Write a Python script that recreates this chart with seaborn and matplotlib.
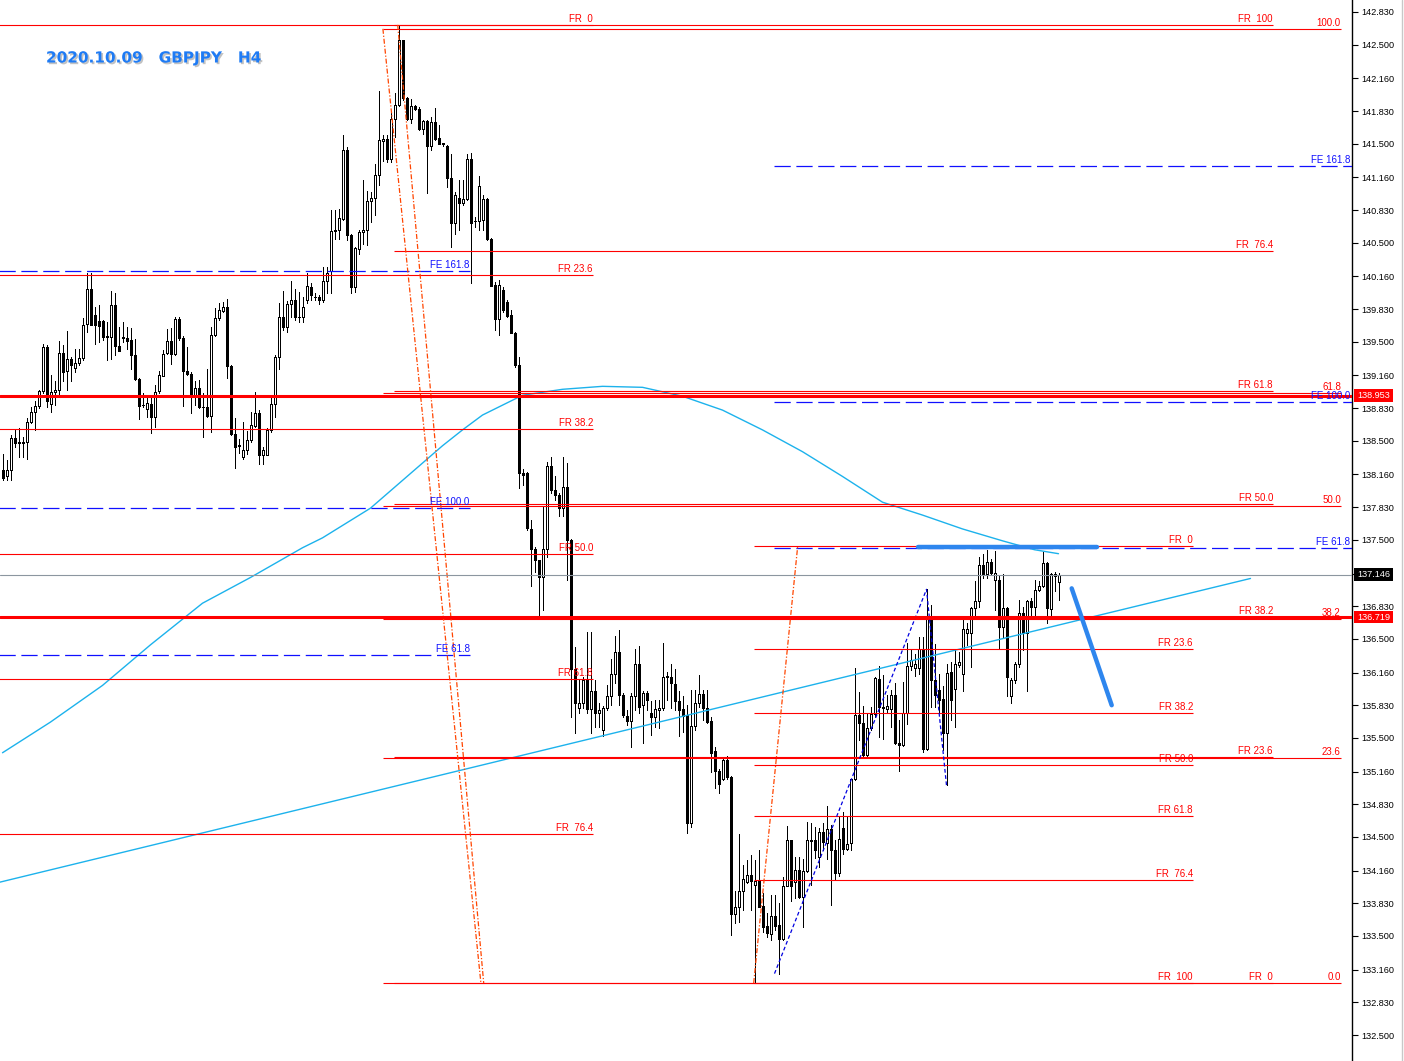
import numpy as np
import matplotlib
matplotlib.use("Agg")
import matplotlib.pyplot as plt
import matplotlib.patheffects as pe
import matplotlib.transforms as mtransforms
from matplotlib.lines import Line2D
from matplotlib.patches import Rectangle
import seaborn as sns

# GBPJPY H4 candles, bar 0 .. 264
opens = [
    138.21, 138.14, 138.21, 138.53, 138.48, 138.48, 138.49, 138.69, 138.79, 138.85,
    139.00, 139.45, 138.87, 138.99, 139.01, 139.39, 139.20, 139.33, 139.24, 139.29,
    139.34, 139.68, 140.03, 139.77, 139.71, 139.71, 139.55, 139.55, 139.87, 139.46,
    139.54, 139.54, 139.52, 139.37, 139.12, 138.86, 138.82, 138.87, 138.74, 139.00,
    139.15, 139.39, 139.51, 139.38, 139.73, 139.54, 139.20, 139.17, 138.95, 139.03,
    138.84, 138.84, 138.75, 139.57, 139.74, 139.81, 139.85, 139.26, 138.57, 138.45,
    138.34, 138.41, 138.51, 138.65, 138.78, 138.36, 138.36, 138.61, 138.87, 139.35,
    139.75, 139.65, 139.88, 139.92, 139.75, 139.75, 139.92, 140.05, 139.95, 139.95,
    139.92, 140.11, 140.21, 140.62, 140.63, 140.74, 141.44, 140.58, 140.05, 140.44,
    140.61, 140.63, 140.92, 140.95, 141.18, 141.53, 141.55, 141.35, 141.75, 141.89,
    142.55, 141.96, 141.75, 141.88, 141.85, 141.65, 141.73, 141.48, 141.72, 141.56,
    141.50, 141.48, 141.15, 140.70, 140.95, 140.90, 140.94, 141.35, 140.72, 140.72,
    140.73, 140.94, 140.54, 140.07, 139.73, 140.02, 139.90, 139.77, 139.59, 139.27,
    138.17, 138.17, 137.61, 137.41, 137.30, 137.12, 137.41, 138.25, 138.00, 137.95,
    137.82, 138.03, 137.50, 136.20, 135.80, 135.85, 136.08, 135.79, 135.97, 135.75,
    135.58, 135.80, 135.92, 136.15, 136.37, 135.93, 135.72, 135.67, 135.92, 136.25,
    135.83, 135.95, 135.75, 135.71, 135.78, 135.80, 136.13, 136.12, 136.04, 135.87,
    135.79, 135.73, 134.64, 135.62, 135.85, 135.94, 135.80, 135.67, 135.37, 135.17,
    135.09, 135.28, 135.11, 133.72, 133.79, 133.95, 134.05, 134.12, 134.01, 134.06,
    133.80, 133.60, 133.52, 133.70, 133.61, 133.47, 134.00, 134.47, 134.05, 134.17,
    133.89, 134.16, 134.46, 134.47, 134.30, 134.55, 134.44, 134.58, 134.37, 134.14,
    134.59, 134.38, 134.44, 135.08, 135.73, 135.65, 135.33, 135.60, 135.74, 136.09,
    135.80, 135.79, 135.79, 135.93, 135.45, 135.43, 135.75, 136.23, 136.21, 136.21,
    136.40, 135.39, 136.72, 136.08, 135.98, 135.89, 135.55, 136.17, 135.99, 136.24,
    136.15, 136.56, 136.56, 136.81, 136.88, 137.25, 137.16, 137.28, 137.09, 137.09,
    136.62, 136.81, 135.92, 136.08, 136.25, 136.76, 136.56, 136.88, 136.82, 136.99,
    137.03, 137.27, 136.80, 137.15, 137.07,
]
highs = [
    138.37, 138.31, 138.56, 138.61, 138.63, 138.54, 138.73, 138.84, 138.90, 139.01,
    139.48, 139.47, 139.16, 139.10, 139.51, 139.47, 139.61, 139.35, 139.43, 139.43,
    139.74, 140.19, 140.19, 139.85, 139.87, 139.72, 139.70, 140.01, 139.99, 139.65,
    139.70, 139.65, 139.64, 139.53, 139.13, 138.98, 138.96, 138.93, 139.06, 139.20,
    139.42, 139.63, 139.64, 139.75, 139.75, 139.56, 139.45, 139.19, 139.10, 139.11,
    138.98, 139.22, 139.65, 139.84, 139.89, 139.90, 139.93, 139.27, 138.73, 138.52,
    138.69, 138.60, 138.79, 138.99, 138.81, 138.44, 138.63, 138.96, 139.37, 139.89,
    140.01, 139.91, 140.11, 140.03, 140.00, 139.95, 140.19, 140.09, 139.99, 139.97,
    140.26, 140.26, 140.83, 140.83, 140.84, 141.59, 141.47, 140.59, 140.46, 140.63,
    141.13, 141.02, 141.01, 141.29, 142.03, 141.59, 141.59, 141.81, 142.01, 142.70,
    142.55, 141.97, 141.95, 141.89, 141.87, 141.74, 141.74, 141.77, 141.86, 141.69,
    141.51, 141.49, 141.40, 141.01, 141.13, 141.13, 141.40, 141.41, 140.76, 141.17,
    140.98, 140.95, 140.55, 140.10, 140.12, 140.05, 139.92, 139.82, 139.60, 139.35,
    138.22, 138.19, 137.70, 137.43, 137.30, 137.83, 138.29, 138.34, 138.14, 137.97,
    138.34, 138.28, 137.51, 136.42, 136.08, 136.12, 136.57, 136.57, 136.08, 135.85,
    135.82, 136.03, 136.30, 136.53, 136.59, 135.95, 135.78, 135.95, 136.40, 136.43,
    135.97, 135.97, 135.87, 135.88, 135.88, 136.46, 136.17, 136.25, 136.20, 135.97,
    135.92, 135.83, 135.98, 135.98, 136.14, 135.98, 135.98, 135.71, 135.41, 135.19,
    135.31, 135.32, 135.12, 133.95, 134.53, 134.22, 134.27, 134.32, 134.27, 134.37,
    133.93, 133.73, 133.91, 133.91, 133.83, 134.10, 134.61, 134.47, 134.30, 134.30,
    134.28, 134.65, 134.64, 134.60, 134.59, 134.64, 134.81, 134.62, 134.47, 134.70,
    134.75, 134.70, 135.09, 136.21, 135.96, 135.82, 135.74, 135.81, 136.12, 136.23,
    136.14, 135.93, 135.98, 136.05, 135.68, 136.06, 136.46, 136.39, 136.35, 136.52,
    136.52, 137.00, 136.84, 136.45, 136.15, 136.02, 136.25, 136.27, 136.39, 136.37,
    136.72, 136.66, 136.82, 137.08, 137.33, 137.36, 137.40, 137.31, 137.39, 137.13,
    137.16, 136.82, 136.10, 136.27, 136.89, 136.82, 136.89, 136.91, 137.09, 137.08,
    137.38, 137.28, 137.17, 137.18, 137.17,
]
lows = [
    138.10, 138.10, 138.10, 138.44, 138.34, 138.34, 138.32, 138.68, 138.61, 138.83,
    138.98, 138.84, 138.79, 138.86, 138.95, 139.10, 139.01, 139.10, 139.19, 139.27,
    139.32, 139.60, 139.67, 139.48, 139.50, 139.52, 139.32, 139.33, 139.37, 139.41,
    139.50, 139.43, 139.23, 139.11, 138.72, 138.84, 138.74, 138.58, 138.64, 138.98,
    139.15, 139.38, 139.28, 139.37, 139.52, 138.85, 139.16, 138.78, 138.86, 138.83,
    138.54, 138.74, 138.59, 139.56, 139.72, 139.80, 139.13, 138.56, 138.23, 138.38,
    138.32, 138.37, 138.49, 138.64, 138.27, 138.27, 138.36, 138.59, 138.74, 139.23,
    139.62, 139.60, 139.75, 139.72, 139.70, 139.70, 139.89, 139.92, 139.92, 139.88,
    139.90, 139.99, 139.99, 140.54, 140.54, 140.73, 140.53, 139.99, 140.00, 140.39,
    140.49, 140.48, 140.71, 140.78, 141.08, 141.33, 141.32, 141.32, 141.57, 141.88,
    141.94, 141.74, 141.71, 141.84, 141.64, 141.60, 141.00, 141.44, 141.54, 141.50,
    141.48, 141.06, 140.46, 140.59, 140.63, 140.88, 140.93, 140.09, 140.66, 140.63,
    140.63, 140.53, 140.06, 139.62, 139.57, 139.80, 139.75, 139.59, 139.25, 138.02,
    138.05, 137.60, 137.03, 137.18, 136.71, 136.79, 137.33, 137.97, 137.90, 137.74,
    137.74, 137.09, 135.71, 135.55, 135.75, 135.80, 135.75, 135.55, 135.61, 135.61,
    135.52, 135.78, 135.83, 136.05, 135.83, 135.71, 135.63, 135.41, 135.78, 135.75,
    135.45, 135.78, 135.53, 135.61, 135.60, 135.78, 135.88, 135.80, 135.78, 135.52,
    135.56, 134.54, 134.60, 135.58, 135.81, 135.68, 135.65, 135.16, 134.99, 134.94,
    135.07, 135.09, 133.51, 133.63, 133.64, 133.76, 134.03, 133.76, 133.03, 133.79,
    133.54, 133.49, 133.46, 133.56, 133.12, 133.46, 134.00, 133.85, 133.88, 133.88,
    133.59, 134.15, 134.01, 134.29, 134.20, 134.37, 134.28, 133.81, 134.08, 134.11,
    134.33, 134.37, 134.37, 135.07, 135.48, 135.31, 135.31, 135.58, 135.71, 135.51,
    135.49, 135.75, 135.61, 135.44, 135.17, 135.42, 135.64, 136.19, 136.13, 136.15,
    135.36, 135.38, 135.81, 135.81, 135.76, 135.38, 135.02, 135.68, 135.61, 136.22,
    135.97, 136.44, 136.22, 136.71, 136.82, 137.11, 137.11, 137.16, 136.79, 136.40,
    136.52, 135.92, 135.85, 136.05, 136.22, 136.39, 135.97, 136.74, 136.72, 136.98,
    137.02, 136.66, 136.72, 136.98, 136.89,
]
closes = [
    138.12, 138.21, 138.53, 138.48, 138.48, 138.48, 138.69, 138.79, 138.85, 139.00,
    139.45, 138.90, 138.99, 139.01, 139.39, 139.19, 139.33, 139.27, 139.29, 139.34,
    139.67, 140.03, 139.67, 139.67, 139.66, 139.55, 139.55, 139.87, 139.46, 139.41,
    139.54, 139.51, 139.37, 139.12, 138.85, 138.86, 138.88, 138.74, 138.99, 139.16,
    139.38, 139.51, 139.38, 139.73, 139.54, 139.20, 139.17, 138.95, 139.03, 138.84,
    138.84, 138.75, 139.57, 139.74, 139.82, 139.85, 139.26, 138.57, 138.44, 138.45,
    138.41, 138.51, 138.66, 138.78, 138.36, 138.41, 138.61, 138.87, 139.35, 139.75,
    139.65, 139.88, 139.92, 139.75, 139.75, 139.85, 140.06, 139.97, 139.95, 139.92,
    140.11, 140.19, 140.62, 140.63, 140.75, 141.44, 140.58, 140.05, 140.45, 140.61,
    140.63, 140.92, 140.95, 141.18, 141.54, 141.55, 141.35, 141.75, 141.89, 142.55,
    141.96, 141.75, 141.88, 141.85, 141.65, 141.73, 141.48, 141.72, 141.55, 141.50,
    141.50, 141.15, 140.70, 140.98, 140.90, 140.94, 141.35, 140.70, 140.72, 141.07,
    140.94, 140.54, 140.06, 139.73, 140.07, 139.82, 139.76, 139.59, 139.27, 138.17,
    138.15, 137.62, 137.41, 137.30, 137.12, 137.41, 138.25, 138.00, 137.95, 137.82,
    138.03, 137.50, 136.20, 135.85, 135.85, 136.08, 135.79, 135.97, 135.75, 135.78,
    135.80, 135.92, 136.15, 136.37, 135.93, 135.73, 135.67, 135.92, 136.25, 135.81,
    135.95, 135.88, 135.71, 135.79, 135.80, 136.12, 136.11, 136.05, 135.87, 135.78,
    135.72, 134.64, 135.62, 135.85, 135.94, 135.80, 135.66, 135.35, 135.17, 135.03,
    135.28, 135.11, 133.72, 133.79, 133.95, 134.08, 134.12, 134.06, 134.06, 133.79,
    133.59, 133.53, 133.70, 133.60, 133.47, 134.00, 134.47, 134.00, 134.17, 133.89,
    134.16, 134.47, 134.47, 134.37, 134.55, 134.45, 134.58, 134.37, 134.14, 134.48,
    134.38, 134.43, 135.08, 135.73, 135.65, 135.33, 135.60, 135.74, 136.10, 135.81,
    135.81, 135.82, 135.93, 135.45, 135.43, 135.75, 136.23, 136.29, 136.25, 136.40,
    135.39, 136.72, 136.08, 135.93, 135.88, 135.55, 136.16, 135.88, 136.25, 136.27,
    136.60, 136.60, 136.81, 136.88, 137.25, 137.16, 137.28, 137.17, 137.17, 136.62,
    136.81, 136.11, 136.08, 136.25, 136.76, 136.56, 136.88, 136.82, 136.99, 137.03,
    137.27, 136.81, 137.15, 137.13, 137.14,
]

# moving average (light blue curve), read at some bars
ma_bars = [0, 12, 25, 37, 50, 62, 75, 80, 92, 100, 110, 115, 120, 130, 140, 150,
           160, 170, 180, 190, 200, 210, 220, 230, 240, 250, 258, 264]
ma_vals = [135.35, 135.66, 136.03, 136.44, 136.86, 137.12, 137.42, 137.52, 137.82,
           138.10, 138.45, 138.61, 138.76, 138.96, 139.02, 139.05, 139.04, 138.95,
           138.81, 138.61, 138.39, 138.14, 137.88, 137.75, 137.61, 137.49, 137.40, 137.36]

# trend line
trend_bars = [-1, 312]
trend_vals = [134.04, 137.11]

# fibonacci retracements: (level-0 price, level-100 price, start bar, end bar, levels, labels)
fib_a = (142.70, 132.01, -1, 147.6, [0, 23.6, 38.2, 50.0, 61.8, 76.4],
         ["FR  0", "FR 23.6", "FR 38.2", "FR 50.0", "FR 61.8", "FR  76.4"])
fib_b = (133.025, 142.70, 97.8, 317.6, [0, 23.6, 38.2, 50.0, 61.8, 76.4, 100],
         ["FR  0", "FR 23.6", "FR 38.2", "FR 50.0", "FR 61.8", "FR  76.4", "FR  100"])
fib_c = (133.025, 142.66, 95.1, 334.6, [0, 23.6, 38.2, 50.0, 61.8, 100],
         ["0.0", "23.6", "38.2", "50.0", "61.8", "100.0"])
fib_d = (137.437, 133.025, 187.8, 297.6, [0, 23.6, 38.2, 50.0, 61.8, 76.4, 100],
         ["FR  0", "FR 23.6", "FR 38.2", "FR 50.0", "FR 61.8", "FR  76.4", "FR  100"])

# fibonacci expansions
fe_labels = ["FE 161.8", "FE 100.0", "FE 61.8"]
fe_left_vals = [140.214, 137.821, 136.337]
fe_left_span = (-1, 116.8)
fe_right_vals = [141.275, 138.892, 137.417]
fe_right_span = (192.8, 338)

# fib tool diagonals (orange dashed) and expansion zigzag (blue dashed)
fib_diag = [([95.1, 119.6], [142.66, 133.025]),
            ([98.8, 120.3], [142.70, 133.025]),
            ([187.8, 198.8], [133.025, 137.437])]
zig_bars = [193, 231, 236]
zig_vals = [133.12, 137.00, 135.02]

# hand drawn blue lines
flat_bars = [228.8, 273.6]
flat_vals = [137.43, 137.43]
down_bars = [267.3, 277.3]
down_vals = [137.01, 135.83]

# horizontal levels and price tags
level_vals = [138.953, 136.719]
bid = 137.146
tags = [("138.953", 138.953, "#FF0000"), ("137.146", 137.146, "black"),
        ("136.719", 136.719, "#FF0000")]

tick_labels = ["142.830", "142.500", "142.160", "141.830", "141.500", "141.160",
               "140.830", "140.500", "140.160", "139.830", "139.500", "139.160",
               "138.830", "138.500", "138.160", "137.830", "137.500", "137.160",
               "136.830", "136.500", "136.160", "135.830", "135.500", "135.160",
               "134.830", "134.500", "134.160", "133.830", "133.500", "133.160",
               "132.830", "132.500"]
hidden_tick = "137.160"  # sits under the bid tag

title = "2020.10.09   GBPJPY   H4"

sns.set_style("white")
plt.rcParams["font.family"] = ["Liberation Sans", "DejaVu Sans"]

W, H = 1404, 1061
fig = plt.figure(figsize=(W / 100, H / 100), dpi=100)
ax = fig.add_axes([0, 0, 1352 / W, 1])
ax.set_xlim(-0.625, 337.375)
ax.set_ylim(132.2375, 142.951)

# candles (1 px outline, 1 px hollow inside, like the terminal draws them)
o = np.array(opens)
h = np.array(highs)
l = np.array(lows)
c = np.array(closes)
idx = np.arange(len(c))
up = c >= o
ax.vlines(idx, l, h, color="black", lw=0.72, zorder=3, antialiased=False)
lo = np.minimum(o, c)
ht = np.maximum(np.abs(c - o), 0.004)
ax.bar(idx[up], ht[up], bottom=lo[up], width=0.5, facecolor="white",
       edgecolor="black", linewidth=0.72, zorder=4, antialiased=False)
ax.bar(idx[~up], ht[~up], bottom=lo[~up], width=0.5, facecolor="black",
       edgecolor="black", linewidth=0.72, zorder=4, antialiased=False)

# moving average and trend line
sns.lineplot(x=ma_bars, y=ma_vals, ax=ax, color="#1CB2EC", lw=1, sort=False,
             estimator=None, zorder=5)
sns.lineplot(x=trend_bars, y=trend_vals, ax=ax, color="#1CB2EC", lw=1, sort=False,
             estimator=None, zorder=5)

# fibonacci retracements
red = "#FF0000"
for zero, hundred, x0, x1, levels, labels in [fib_a, fib_b, fib_c, fib_d]:
    for lev, lab in zip(levels, labels):
        p = zero + lev / 100 * (hundred - zero)
        ax.hlines(p, x0, x1, color=red, lw=0.8, zorder=6)
        ax.annotate(lab, (x1, p), xytext=(0, 0.6), textcoords="offset points",
                    ha="right", va="bottom", fontsize=7, color=red, zorder=7)

# fibonacci expansions
blue = "#1010FF"
for vals, (x0, x1) in [(fe_left_vals, fe_left_span), (fe_right_vals, fe_right_span)]:
    for p, lab in zip(vals, fe_labels):
        ax.hlines(p, x0, x1, color=blue, lw=0.9, linestyles=(0, (13, 4.5)), zorder=6)
        ax.annotate(lab, (min(x1, 337.0), p), xytext=(0, 0.6), textcoords="offset points",
                    ha="right", va="bottom", fontsize=7, color=blue, zorder=7)

for xs, ys in fib_diag:
    ax.plot(xs, ys, color="#FF4500", lw=0.9, ls=(0, (4, 1.5, 1, 1.5)), zorder=6)
ax.plot(zig_bars, zig_vals, color="#0000E0", lw=0.9, ls=(0, (3, 2)), zorder=6)

# horizontal price levels
for p in level_vals:
    ax.axhline(p, color=red, lw=2.2, zorder=6)
ax.axhline(bid, color="#8C96A0", lw=0.8, zorder=6)

# hand drawn lines
sns.lineplot(x=flat_bars, y=flat_vals, ax=ax, color="#2E86EE", lw=3.2, sort=False,
             estimator=None, zorder=8, solid_capstyle="round")
sns.lineplot(x=down_bars, y=down_vals, ax=ax, color="#2E86EE", lw=3.2, sort=False,
             estimator=None, zorder=8, solid_capstyle="round")

# axes styling
ax.set_xticks([])
ax.set_yticks([float(t) for t in tick_labels])
ax.set_yticklabels([("" if t == hidden_tick else t) for t in tick_labels])
ax.yaxis.tick_right()
ax.tick_params(axis="y", right=True, left=False, labelright=True, labelleft=False,
               length=4, width=0.8, direction="out", pad=3, labelsize=6.6,
               colors="black")
for side in ["left", "top", "bottom"]:
    ax.spines[side].set_visible(False)
ax.spines["right"].set_color("black")
ax.spines["right"].set_linewidth(1.0)
ax.set_xlabel("")
ax.set_ylabel("")

# price tags on the scale
blend = mtransforms.blended_transform_factory(ax.transAxes, ax.transData)
px = 0.0100978  # price per pixel
for txt, p, col in tags:
    ax.add_patch(Rectangle((1354 / 1352, p - 6 * px), 39 / 1352, 12.5 * px,
                           transform=blend, facecolor=col, edgecolor="none",
                           clip_on=False, zorder=10))
    ax.text(1373.5 / 1352, p, txt, transform=blend, ha="center", va="center",
            fontsize=6.6, color="white", zorder=11, clip_on=False)

fig.text(46 / W, 1 - 58 / H, title, ha="left", va="center", fontsize=11,
         fontweight="bold", color="#1E7BF5", family="DejaVu Sans",
         path_effects=[pe.withSimplePatchShadow(offset=(1.2, -1.2),
                                                shadow_rgbFace="#909090", alpha=0.55)])

fig.add_artist(Line2D([1401.5 / W, 1401.5 / W], [0, 1], color="#C8C8C8", lw=1))

fig.savefig("out.png", dpi=100, facecolor="white")
